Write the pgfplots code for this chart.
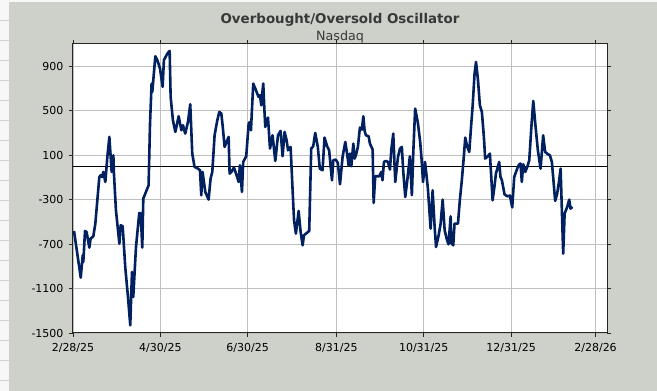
\documentclass[border=0pt]{standalone}
\usepackage{pgfplots}
\pgfplotsset{compat=1.18}
\usepackage{fontspec}
\setmainfont{DejaVu Sans}
\definecolor{bg}{RGB}{205,209,202}
\definecolor{navy}{RGB}{0,32,96}
\definecolor{gridc}{RGB}{191,191,191}
\begin{document}
\begin{tikzpicture}
\useasboundingbox (0pt,0pt) rectangle (657pt,391pt);
\fill[bg] (0pt,0pt) rectangle (657pt,391pt);
\fill[white!97!black] (0pt,0pt) rectangle (9pt,391pt);
\foreach \yy in {11,31,51,71,91,111,131,151,171,191,211,231,251,271,291,311,331,351,371}
  \draw[gray!35, line width=0.6pt] (0pt,\yy pt) -- (9pt,\yy pt);
\fill[white!97!black] (0pt,388.5pt) rectangle (657pt,391pt);
\node[font=\bfseries\fontsize{13.4}{16}\selectfont, text=black!78] at (340pt,371pt) {Overbought/Oversold Oscillator};
\node[font=\fontsize{12.7}{15}\selectfont, text=black!78] at (340pt,353.5pt) {Nasdaq};
\begin{axis}[
  at={(73pt,58pt)}, anchor=south west, scale only axis,
  width=534pt, height=289pt,
  xmin=0, xmax=373, ymin=-1500, ymax=1100,
  axis background/.style={fill=white},
  xtick={0,61,122,184,245,306,365},
  xticklabels={2/28/25,4/30/25,6/30/25,8/31/25,10/31/25,12/31/25,2/28/26},
  ytick={-1500,-1100,-700,-300,100,500,900},
  grid=major,
  major grid style={gridc, line width=0.9pt},
  axis line style={black!85, line width=1pt},
  tick align=outside, major tick length=4pt,
  tick style={black!85, line width=0.8pt},
  /pgf/number format/assume math mode=true,
  /pgf/number format/1000 sep={},
  tick label style={font=\fontsize{11}{13}\selectfont, text=black},
  xticklabel style={yshift=-3pt},
  yticklabel style={xshift=-2pt},
]
\addplot[black, line width=0.9pt, forget plot] coordinates {(0,0) (373,0)};
\addplot[navy, line width=2.6pt, line join=round, mark=none] table {
x y
0.7 -582
3.0 -786
5.4 -1002
6.8 -801
7.2 -861
8.4 -582
9.5 -591
11.4 -732
12.3 -651
14.2 -630
15.6 -516
18.4 -96
19.3 -81
20.3 -96
21.2 -51
22.6 -141
24.0 84
25.4 264
27.0 -51
28.2 99
28.6 -66
30.0 -396
32.4 -696
33.3 -531
34.7 -540
36.5 -906
38.4 -1176
40.0 -1431
41.2 -951
42.1 -1176
44.0 -726
46.3 -420
47.3 -426
48.4 -732
49.1 -291
52.8 -171
53.8 384
54.9 744
55.4 669
57.5 990
58.9 954
60.8 879
62.6 714
63.5 954
65.9 1014
67.5 1038
68.2 624
69.8 414
71.5 309
73.8 450
75.7 324
76.8 369
78.4 294
80.3 399
81.9 558
83.3 114
84.9 -6
87.3 -21
88.7 -36
89.6 -261
90.5 -51
92.4 -231
94.7 -300
96.1 -111
97.3 -51
98.9 279
100.8 414
102.2 489
103.6 474
104.5 369
105.9 174
108.7 264
109.4 -66
110.6 -51
112.4 -12
114.3 -81
115.7 -141
116.6 9
118.0 -231
118.9 39
121.0 90
122.7 384
123.6 399
124.3 324
125.9 744
127.8 684
129.6 624
130.6 639
131.5 549
132.0 630
132.9 744
133.6 534
134.3 354
136.2 438
137.6 159
139.4 279
141.3 48
143.2 279
145.0 318
146.4 90
147.8 309
149.2 234
150.2 144
152.0 174
153.4 -216
154.4 -486
155.7 -606
157.6 -402
159.0 -591
160.4 -711
161.3 -621
165.0 -582
166.4 159
167.8 180
169.2 300
171.0 174
172.4 -21
174.3 -36
175.7 258
177.5 180
178.9 144
180.9 -126
181.8 54
183.5 60
185.0 30
186.5 -162
188.3 84
190.2 219
191.6 99
192.5 9
193.4 114
194.4 0
195.8 204
196.7 69
197.6 99
199.0 174
200.4 348
201.8 330
202.8 450
203.7 318
204.6 279
206.5 270
207.4 204
209.3 150
210.0 -330
211.1 -90
213.9 -90
215.3 -51
216.2 -126
217.2 39
218.6 48
220.0 39
221.4 -30
222.3 144
223.7 294
225.1 -141
227.0 84
228.4 159
229.7 174
230.7 -51
232.1 -276
233.5 -126
235.3 90
236.7 -261
237.7 129
239.0 519
240.9 390
242.5 220
243.5 60
244.5 -141
245.9 39
247.9 -201
249.8 -561
251.2 -216
252.6 -546
253.6 -726
255.4 -621
256.8 -516
258.2 -300
259.6 -576
261.0 -651
262.3 -702
263.8 -450
264.2 -690
265.6 -711
266.5 -516
268.9 -516
270.2 -306
271.6 -126
272.6 24
274.0 258
275.4 174
276.8 129
278.2 384
279.1 534
280.5 834
281.5 939
282.9 774
284.2 549
285.6 489
287.0 264
287.9 69
289.8 90
291.2 114
293.1 -306
294.5 -171
295.4 -66
297.7 39
298.6 -96
299.6 -126
301.4 -252
303.3 -270
305.2 -264
306.8 -370
308.2 -96
310.3 -21
311.7 18
312.6 24
313.5 -141
314.5 18
315.9 -51
317.3 -6
318.7 54
320.1 339
321.5 588
322.9 384
324.7 144
326.6 -21
328.4 279
329.8 129
331.7 108
333.1 99
334.5 39
336.8 -312
338.2 -246
339.6 -126
340.6 -21
342.4 -786
343.4 -426
345.2 -366
346.6 -300
347.5 -381
348.9 -366
};
\end{axis}
\end{tikzpicture}
\end{document}
